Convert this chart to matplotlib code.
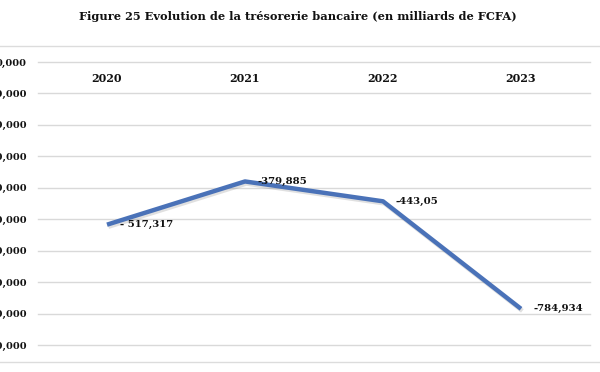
import matplotlib.pyplot as plt
import matplotlib.patheffects as pe
from matplotlib.lines import Line2D
from matplotlib.ticker import FuncFormatter

years = ["2020", "2021", "2022", "2023"]
tresorerie = [-517.317, -379.885, -443.05, -784.934]
point_labels = ["- 517,317", "-379,885", "-443,05", "-784,934"]
y_ticks = [0, -100, -200, -300, -400, -500, -600, -700, -800, -900]

W, H = 600, 372
fig = plt.figure(figsize=(W / 100, H / 100), dpi=100)
plt.rcParams['font.family'] = ['DejaVu Serif']

# axes box from the gridline extents in the picture
ax = fig.add_axes([38 / W, 1 - 345 / H, (590 - 38) / W, (345 - 62) / H])

x = list(range(len(years)))
ax.plot(x, tresorerie, color='#4a72b8', linewidth=3.2, solid_capstyle='butt',
        path_effects=[pe.SimpleLineShadow(offset=(1, -1.5), alpha=0.18, shadow_color='#555555'), pe.Normal()])

for xi, v, lab in zip(x, tresorerie, point_labels):
    ax.annotate(lab, (xi, v), xytext=(9, 0), textcoords='offset points',
                ha='left', va='center', fontsize=7.3, fontweight='bold', color='#111111')

ax.set_xlim(-0.5, 3.5)
ax.set_ylim(-900, 0)
ax.set_yticks(y_ticks)
ax.yaxis.set_major_formatter(FuncFormatter(lambda v, p: f"{v:.3f}".replace('.', ',')))
ax.grid(axis='y', color='#d9d9d9', linewidth=1)
for gl in ax.get_ygridlines():
    gl.set_clip_on(False)
ax.set_axisbelow(True)
for s in ax.spines.values():
    s.set_visible(False)
ax.tick_params(axis='y', length=0, pad=8, labelsize=7, labelcolor='#111111')
for t in ax.get_yticklabels():
    t.set_fontweight('bold')

# year labels sit just under the zero line
ax.set_xticks([])
for xi, yr in zip(x, years):
    ax.text(xi, -52, yr, ha='center', va='center', fontsize=8, fontweight='bold', color='#111111')

fig.text(298 / W, 1 - 17 / H, "Figure 25 Evolution de la trésorerie bancaire (en milliards de FCFA)",
         ha='center', va='center', fontsize=8.2, fontweight='bold', color='#111111')

# chart border lines
fig.add_artist(Line2D([0, 1], [1 - 46 / H, 1 - 46 / H], color='#dcdcdc', linewidth=1, transform=fig.transFigure))
fig.add_artist(Line2D([0, 1], [1 - 362 / H, 1 - 362 / H], color='#dcdcdc', linewidth=1, transform=fig.transFigure))

fig.savefig("out.png", dpi=100)
